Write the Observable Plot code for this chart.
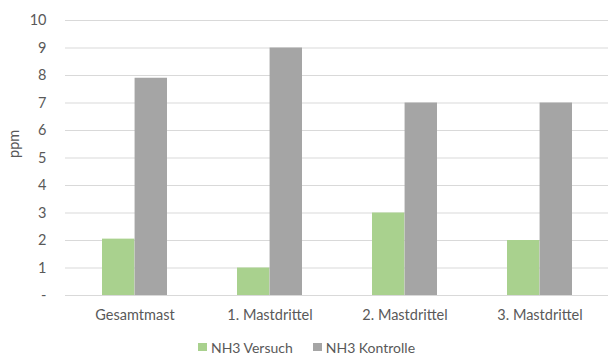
<!DOCTYPE html>
<html>
<head>
<meta charset="utf-8">
<script src="https://cdn.jsdelivr.net/npm/d3@7"></script>
<script src="https://cdn.jsdelivr.net/npm/@observablehq/plot@0.6"></script>
<style>
  html, body { margin: 0; padding: 0; background: #fff; }
  body { width: 608px; height: 354px; overflow: hidden; font-family: Lato, "Open Sans", sans-serif; }
  #chart svg { display: block; }
  .legend { display: flex; justify-content: center; align-items: center; height: 20px; font-size: 14px; color: #595959; margin-top: 3px; padding-left: 5px; }
  .legend .item { display: flex; align-items: center; margin: 0 10px; }
  .legend .sw { width: 9px; height: 8px; margin-right: 4px; }
</style>
</head>
<body>
<div id="chart"></div>
<script>
const categories = ["Gesamtmast", "1. Mastdrittel", "2. Mastdrittel", "3. Mastdrittel"];
const seriesNames = ["NH3 Versuch", "NH3 Kontrolle"];
const versuch = [2.05, 1, 3, 2];
const kontrolle = [7.9, 9, 7, 7];
const colors = ["#a9d18e", "#a5a5a5"];
const yTicks = [0, 1, 2, 3, 4, 5, 6, 7, 8, 9, 10];
const yLabel = "ppm";

const W = 608, H = 334, mL = 65, mR = 0;
const padInner = 0.52, padOuter = 0.26;
const step = (W - mL - mR) / (categories.length - padInner + 2 * padOuter);
const half = step * (1 - padInner) / 2;

const dV = categories.map((c, i) => ({cat: c, series: seriesNames[0], value: versuch[i]}));
const dK = categories.map((c, i) => ({cat: c, series: seriesNames[1], value: kontrolle[i]}));

const chart = Plot.plot({
  width: W,
  height: H,
  marginLeft: mL,
  marginRight: mR,
  marginTop: 20,
  marginBottom: 39,
  style: {fontFamily: "Lato, 'Open Sans', sans-serif", fontSize: "14.5px", color: "#595959", background: "#fff"},
  x: {domain: categories, paddingInner: padInner, paddingOuter: padOuter, label: null, tickSize: 0, tickPadding: 14},
  y: {domain: [0, 10], ticks: yTicks, tickFormat: d => d === 0 ? "-" : String(d), tickSize: 0, tickPadding: 19, label: null},
  color: {domain: seriesNames, range: colors},
  marks: [
    Plot.gridY(yTicks, {stroke: "#d9d9d9", strokeOpacity: 1, strokeWidth: 1}),
    Plot.barY(dV, {x: "cat", y: "value", fill: "series", insetRight: half}),
    Plot.barY(dK, {x: "cat", y: "value", fill: "series", insetLeft: half}),
    Plot.ruleY([0], {stroke: "#d9d9d9", strokeWidth: 1}),
    Plot.text([yLabel], {text: d => d, frameAnchor: "left", dx: -51, rotate: -90, fill: "#595959", fontSize: 14.5})
  ]
});
chart.querySelectorAll("text").forEach(t => t.setAttribute("fill", "#595959"));
document.getElementById("chart").appendChild(chart);

const legend = document.createElement("div");
legend.className = "legend";
seriesNames.forEach((s, i) => {
  const item = document.createElement("div");
  item.className = "item";
  const sw = document.createElement("span");
  sw.className = "sw";
  sw.style.background = colors[i];
  const lab = document.createElement("span");
  lab.textContent = s;
  item.appendChild(sw);
  item.appendChild(lab);
  legend.appendChild(item);
});
document.getElementById("chart").appendChild(legend);
</script>
</body>
</html>
